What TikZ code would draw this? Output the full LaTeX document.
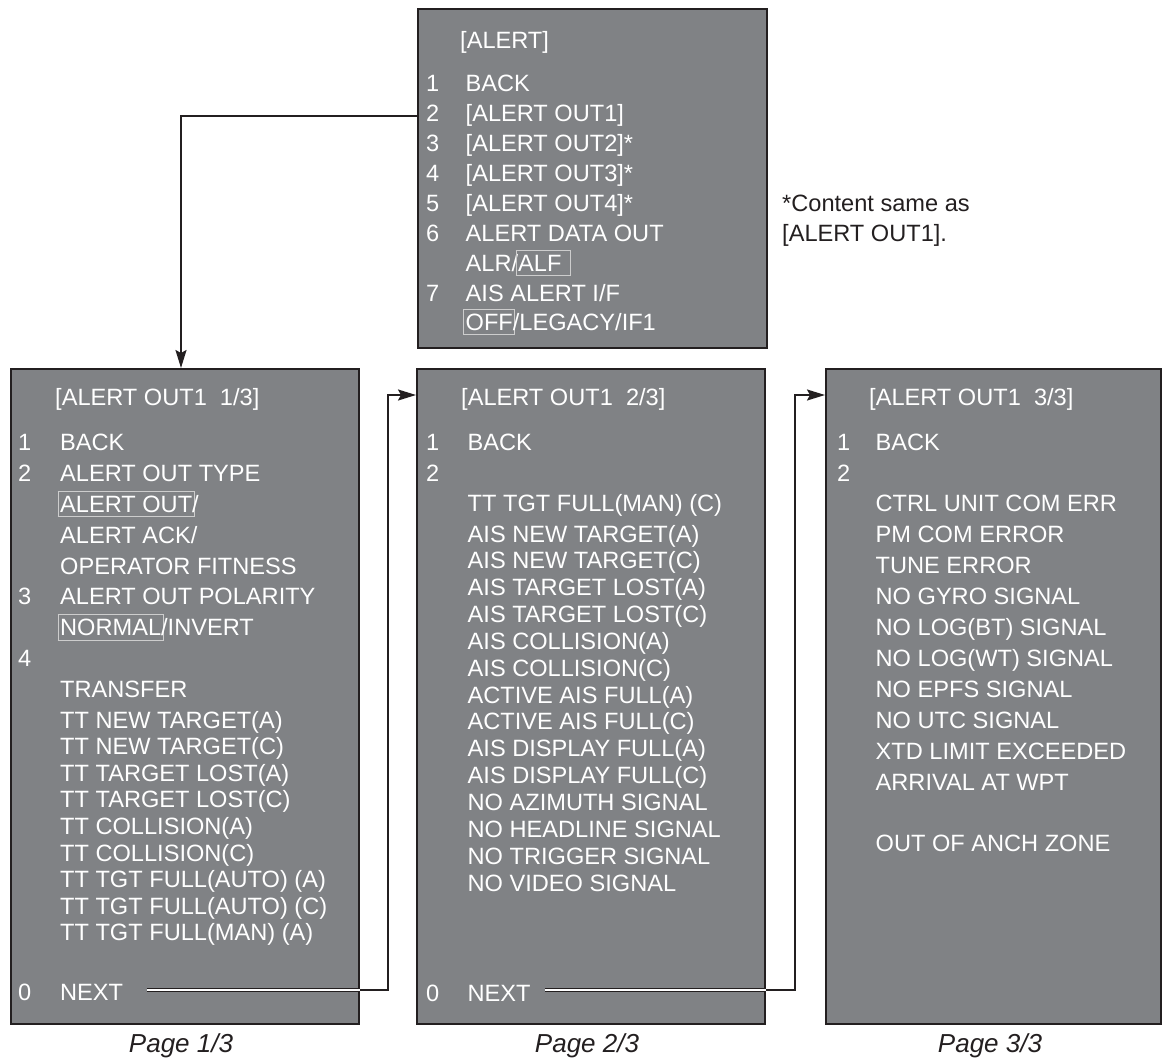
\documentclass[tikz,border=0pt]{standalone}
\usepackage{fontspec}
\usepackage{tikz}
\usetikzlibrary{arrows.meta}
\setmainfont{Liberation Sans}

\definecolor{panelgray}{RGB}{128,130,133}
\definecolor{linecol}{RGB}{35,31,32}
\definecolor{selgray}{RGB}{205,205,205}

\newcommand\menufont{\fontsize{23.6}{28}\selectfont}
\newcommand\pagefont{\fontsize{26}{30}\selectfont\itshape}
\newcommand\selbox[1]{\hspace{-2.5pt}{\setlength\fboxsep{1.5pt}\setlength\fboxrule{1pt}\color{selgray}\fbox{\color{white}\rule[-2.5pt]{0pt}{21.5pt}#1}}\hspace{-2.5pt}}

\tikzset{
  menubox/.style={draw=linecol, line width=2pt, fill=panelgray, anchor=north west, inner sep=0pt},
  item/.style={anchor=base west, inner sep=0pt, text=white, font=\menufont},
  note/.style={anchor=base west, inner sep=0pt, text=linecol, font=\menufont},
  pagelabel/.style={anchor=base, inner sep=0pt, text=linecol, font=\pagefont},
  link/.style={draw=linecol, line width=2pt},
  nextline/.style={draw=linecol, double=white, double distance=1.5pt, line width=1pt},
  tip/.style={-{Stealth[length=18pt,width=11pt,inset=3pt]}}
}

\begin{document}
\begin{tikzpicture}[x=1pt,y=-1pt]
		\useasboundingbox (0,0) rectangle (1168,1061);
		% panels
		\node[menubox, minimum width=349pt, minimum height=339pt] (alert) at (417,8) {};
		\node[menubox, minimum width=348pt, minimum height=655pt] (pg1) at (10,368) {};
		\node[menubox, minimum width=348pt, minimum height=655pt] (pg2) at (416,368) {};
		\node[menubox, minimum width=335pt, minimum height=655pt] (pg3) at (825,368) {};
		% [ALERT]
		\node[item] (at0) at (460,48) {[ALERT]};
		\node[item] (an1) at (426,91) {1};
		\node[item] (an2) at (426,121) {2};
		\node[item] (an3) at (426,151) {3};
		\node[item] (an4) at (426,181) {4};
		\node[item] (an5) at (426,211) {5};
		\node[item] (an6) at (426,241) {6};
		\node[item] (an7) at (426,301) {7};
		\node[item] (ai1) at (465.5,91) {BACK};
		\node[item] (ai2) at (465.5,121) {[ALERT OUT1]};
		\node[item] (ai3) at (465.5,151) {[ALERT OUT2]*};
		\node[item] (ai4) at (465.5,181) {[ALERT OUT3]*};
		\node[item] (ai5) at (465.5,211) {[ALERT OUT4]*};
		\node[item] (ai6) at (465.5,241) {ALERT DATA OUT};
		\node[item] (ai6b) at (465.5,271) {ALR/\selbox{ALF\ }};
		\node[item] (ai7) at (465.5,301) {AIS ALERT I/F};
		\node[item] (ai7b) at (465.5,330) {\selbox{OFF}/LEGACY/IF1};
		\node[note] (fn1) at (782,211) {*Content same as};
		\node[note] (fn2) at (782,241) {[ALERT OUT1].};
		% page 1/3
		\node[item] (p1t) at (55,405) {[ALERT OUT1\ \ 1/3]};
		\node[item] (p1n1) at (18,450) {1};
		\node[item] (p1n2) at (18,481) {2};
		\node[item] (p1n3) at (18,604.5) {3};
		\node[item] (p1n4) at (18,666.5) {4};
		\node[item] (p1n0) at (18,1000) {0};
		\node[item] (p1a) at (60,450) {BACK};
		\node[item] (p1b) at (60,481) {ALERT OUT TYPE};
		\node[item] (p1c) at (60,512) {\selbox{ALERT OUT}/};
		\node[item] (p1d) at (60,543) {ALERT ACK/};
		\node[item] (p1e) at (60,574) {OPERATOR FITNESS};
		\node[item] (p1f) at (60,604.5) {ALERT OUT POLARITY};
		\node[item] (p1g) at (60,635.5) {\selbox{NORMAL}/INVERT};
		\node[item] (p1h) at (60,697) {TRANSFER};
		\node[item] (p1i) at (60,728) {TT NEW TARGET(A)};
		\node[item] (p1j) at (60,754.6) {TT NEW TARGET(C)};
		\node[item] (p1k) at (60,781.2) {TT TARGET LOST(A)};
		\node[item] (p1l) at (60,807.8) {TT TARGET LOST(C)};
		\node[item] (p1m) at (60,834.4) {TT COLLISION(A)};
		\node[item] (p1n) at (60,861) {TT COLLISION(C)};
		\node[item] (p1o) at (60,887.6) {TT TGT FULL(AUTO) (A)};
		\node[item] (p1p) at (60,914.2) {TT TGT FULL(AUTO) (C)};
		\node[item] (p1q) at (60,940.8) {TT TGT FULL(MAN) (A)};
		\node[item] (next1) at (60,1000) {NEXT};
		% page 2/3
		\node[item] (p2t) at (461,405) {[ALERT OUT1\ \ 2/3]};
		\node[item] (p2n1) at (426,450) {1};
		\node[item] (p2n2) at (426,481) {2};
		\node[item] (p2n0) at (426,1001) {0};
		\node[item] (p2a) at (467.5,450) {BACK};
		\node[item] (p2b) at (467.5,511) {TT TGT FULL(MAN) (C)};
		\node[item] (p2c) at (467.5,542) {AIS NEW TARGET(A)};
		\node[item] (p2d) at (467.5,568.85) {AIS NEW TARGET(C)};
		\node[item] (p2e) at (467.5,595.7) {AIS TARGET LOST(A)};
		\node[item] (p2f) at (467.5,622.55) {AIS TARGET LOST(C)};
		\node[item] (p2g) at (467.5,649.4) {AIS COLLISION(A)};
		\node[item] (p2h) at (467.5,676.25) {AIS COLLISION(C)};
		\node[item] (p2i) at (467.5,703.1) {ACTIVE AIS FULL(A)};
		\node[item] (p2j) at (467.5,729.95) {ACTIVE AIS FULL(C)};
		\node[item] (p2k) at (467.5,756.8) {AIS DISPLAY FULL(A)};
		\node[item] (p2l) at (467.5,783.65) {AIS DISPLAY FULL(C)};
		\node[item] (p2m) at (467.5,810.5) {NO AZIMUTH SIGNAL};
		\node[item] (p2n) at (467.5,837.35) {NO HEADLINE SIGNAL};
		\node[item] (p2o) at (467.5,864.2) {NO TRIGGER SIGNAL};
		\node[item] (p2p) at (467.5,891.05) {NO VIDEO SIGNAL};
		\node[item] (next2) at (467.5,1001) {NEXT};
		% page 3/3
		\node[item] (p3t) at (869,405) {[ALERT OUT1\ \ 3/3]};
		\node[item] (p3n1) at (837,450) {1};
		\node[item] (p3n2) at (837,481) {2};
		\node[item] (p3a) at (875.5,450) {BACK};
		\node[item] (p3b) at (875.5,511) {CTRL UNIT COM ERR};
		\node[item] (p3c) at (875.5,542) {PM COM ERROR};
		\node[item] (p3d) at (875.5,573) {TUNE ERROR};
		\node[item] (p3e) at (875.5,604) {NO GYRO SIGNAL};
		\node[item] (p3f) at (875.5,635) {NO LOG(BT) SIGNAL};
		\node[item] (p3g) at (875.5,666) {NO LOG(WT) SIGNAL};
		\node[item] (p3h) at (875.5,697) {NO EPFS SIGNAL};
		\node[item] (p3i) at (875.5,728) {NO UTC SIGNAL};
		\node[item] (p3j) at (875.5,759) {XTD LIMIT EXCEEDED};
		\node[item] (p3k) at (875.5,790) {ARRIVAL AT WPT};
		\node[item] (p3l) at (875.5,851) {OUT OF ANCH ZONE};
		% page labels
		\node[pagelabel] (lab1) at (181,1052) {Page 1/3};
		\node[pagelabel] (lab2) at (587,1052) {Page 2/3};
		\node[pagelabel] (lab3) at (990,1052) {Page 3/3};
		% connectors
		\coordinate (drop) at (181,116);
		\draw[link, tip] (alert.west |- drop) -- (drop) -- (drop |- pg1.north);
		\coordinate (n1start) at (147,990);
		\coordinate (turn1) at (388,395);
		\draw[link, tip] (pg1.east |- n1start) -| (turn1) -- (turn1 -| pg2.west);
		\draw[nextline] (n1start) -- (pg1.east |- n1start);
		\coordinate (n2start) at (545,990);
		\coordinate (turn2) at (795,395);
		\draw[link, tip] (pg2.east |- n2start) -| (turn2) -- (turn2 -| pg3.west);
		\draw[nextline] (n2start) -- (pg2.east |- n2start);
\end{tikzpicture}
\end{document}
